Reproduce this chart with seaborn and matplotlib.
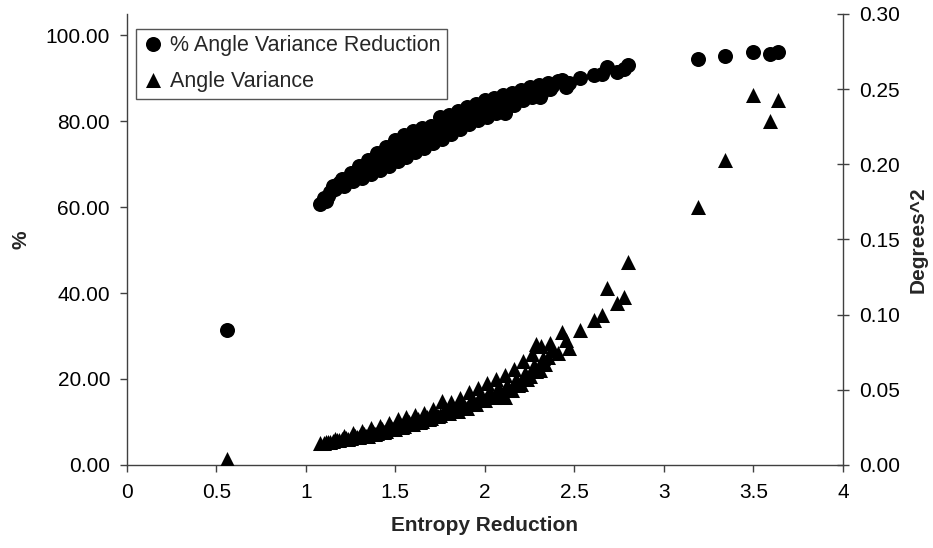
import matplotlib
matplotlib.use("Agg")
import matplotlib.pyplot as plt
from matplotlib.ticker import FormatStrFormatter, FuncFormatter, MultipleLocator
import seaborn as sns

# entropy reduction (x), % angle variance reduction (left), angle variance (right)
entropy = [
    0.56, 1.08, 1.10, 1.1125, 1.125, 1.1375, 1.15, 1.1625, 1.175, 1.1875,
    1.20, 1.2125, 1.225, 1.2375, 1.25, 1.2625, 1.275, 1.2875, 1.30, 1.3125,
    1.325, 1.3375, 1.35, 1.3625, 1.375, 1.3875, 1.40, 1.4125, 1.425, 1.4375,
    1.45, 1.4625, 1.475, 1.4875, 1.50, 1.5125, 1.525, 1.5375, 1.55, 1.5625,
    1.575, 1.5875, 1.60, 1.6125, 1.625, 1.6375, 1.65, 1.6625, 1.675, 1.6875,
    1.70, 1.7125, 1.725, 1.7375, 1.75, 1.7625, 1.775, 1.7875, 1.80, 1.8125,
    1.825, 1.8375, 1.85, 1.8625, 1.875, 1.8875, 1.90, 1.9125, 1.925, 1.9375,
    1.95, 1.9625, 1.975, 1.9875, 2.00, 2.0125, 2.025, 2.0375, 2.05, 2.0625,
    2.075, 2.0875, 2.10, 2.11, 2.1125, 2.125, 2.1375, 2.15, 2.1625, 2.175,
    2.1875, 2.20, 2.2125, 2.225, 2.2375, 2.25, 2.2625, 2.275, 2.285, 2.2875,
    2.30, 2.31, 2.3125, 2.325, 2.3375, 2.35, 2.3625, 2.375, 2.41, 2.43,
    2.455, 2.47, 2.53, 2.61, 2.655, 2.68, 2.74, 2.777, 2.80, 3.19,
    3.34, 3.50, 3.59, 3.635,
]
pct_reduction = [
    31.3, 60.7, 62.0, 61.4, 62.6, 63.4, 65.0, 64.2, 64.8, 65.6,
    66.5, 65.0, 65.8, 66.6, 68.0, 66.0, 67.0, 67.8, 69.5, 66.8,
    68.2, 69.4, 71.0, 67.6, 69.3, 70.6, 72.5, 68.6, 70.6, 71.8,
    74.0, 69.5, 71.8, 73.0, 75.5, 70.6, 73.0, 74.3, 76.8, 71.7,
    74.2, 75.6, 77.6, 72.8, 75.3, 76.5, 78.3, 73.8, 76.1, 77.2,
    78.9, 74.8, 77.0, 78.0, 80.9, 75.8, 78.3, 79.6, 81.4, 77.0,
    79.2, 80.3, 82.4, 78.2, 80.3, 81.4, 83.2, 79.2, 81.2, 82.2,
    84.0, 80.2, 82.1, 83.1, 84.8, 81.0, 82.9, 83.9, 85.4, 81.8,
    83.6, 84.5, 86.0, 81.8, 82.5, 84.3, 85.2, 86.6, 83.8, 85.2,
    85.9, 87.2, 84.8, 86.0, 86.6, 87.8, 85.7, 86.8, 87.6, 87.3,
    88.3, 85.7, 86.2, 87.3, 87.8, 88.8, 87.4, 88.1, 89.3, 89.5,
    88.0, 88.8, 89.9, 90.7, 91.0, 92.6, 91.5, 92.0, 93.0, 94.4,
    95.1, 96.0, 95.7, 96.0,
]
angle_var = [
    0.0041, 0.0144, 0.0146, 0.0152, 0.0150, 0.0156, 0.0160, 0.0173, 0.0166, 0.0164,
    0.0170, 0.0190, 0.0180, 0.0176, 0.0178, 0.0210, 0.0194, 0.0186, 0.0186, 0.0228,
    0.0207, 0.0196, 0.0196, 0.0245, 0.0220, 0.0208, 0.0210, 0.0262, 0.0236, 0.0222,
    0.0225, 0.0280, 0.0252, 0.0238, 0.0240, 0.0303, 0.0270, 0.0255, 0.0257, 0.0320,
    0.0288, 0.0272, 0.0273, 0.0333, 0.0303, 0.0288, 0.0290, 0.0347, 0.0318, 0.0304,
    0.0312, 0.0370, 0.0340, 0.0326, 0.0330, 0.0428, 0.0380, 0.0355, 0.0345, 0.0420,
    0.0382, 0.0364, 0.0362, 0.0448, 0.0405, 0.0384, 0.0380, 0.0484, 0.0432, 0.0406,
    0.0405, 0.0515, 0.0460, 0.0432, 0.0430, 0.0545, 0.0488, 0.0458, 0.0455, 0.0575,
    0.0515, 0.0484, 0.0470, 0.0450, 0.0600, 0.0535, 0.0500, 0.0500, 0.0640, 0.0570,
    0.0535, 0.0540, 0.0690, 0.0615, 0.0575, 0.0590, 0.0740, 0.0665, 0.0805, 0.0625,
    0.0630, 0.0630, 0.0790, 0.0710, 0.0670, 0.0720, 0.0810, 0.0765, 0.0743, 0.0887,
    0.0830, 0.0776, 0.0898, 0.0965, 0.0998, 0.1176, 0.1076, 0.1120, 0.1350, 0.1716,
    0.2030, 0.2460, 0.2290, 0.2430,
]

left_ticks = [0, 20, 40, 60, 80, 100]
right_ticks = [0, 0.05, 0.10, 0.15, 0.20, 0.25, 0.30]

sns.set_theme(style="ticks")
plt.rcParams["font.family"] = ["Liberation Sans", "DejaVu Sans"]
fs = 15
line_col = "#404040"

fig = plt.figure(figsize=(9.33, 5.48), dpi=100)
ax = fig.add_axes([0.1358, 0.1515, 0.7677, 0.823])
ax2 = ax.twinx()

sns.scatterplot(x=entropy, y=pct_reduction, ax=ax, marker="o", color="black",
                s=117, linewidth=0, label="% Angle Variance Reduction", legend=False)
sns.scatterplot(x=entropy, y=angle_var, ax=ax2, marker="^", color="black",
                s=117, linewidth=0, label="Angle Variance", legend=False)

ax.set_xlim(0, 4)
ax.set_ylim(0, 104.9)
ax2.set_ylim(0, 0.30)
ax.xaxis.set_major_locator(MultipleLocator(0.5))
ax.xaxis.set_major_formatter(FuncFormatter(lambda v, p: f"{v:g}"))
ax.set_yticks(left_ticks)
ax.yaxis.set_major_formatter(FormatStrFormatter("%.2f"))
ax2.set_yticks(right_ticks)
ax2.yaxis.set_major_formatter(FormatStrFormatter("%.2f"))

for s in ["top", "right"]:
    ax.spines[s].set_visible(False)
for s in ["top", "left", "bottom"]:
    ax2.spines[s].set_visible(False)
for s in ["left", "bottom"]:
    ax.spines[s].set_color(line_col)
    ax.spines[s].set_linewidth(1)
ax2.spines["right"].set_color(line_col)
ax2.spines["right"].set_linewidth(1)

ax.tick_params(axis="both", direction="out", length=5, width=1, color=line_col,
               labelsize=fs, labelcolor="black")
ax.tick_params(axis="x", pad=8)
ax.tick_params(axis="y", pad=7)
ax2.tick_params(axis="y", direction="inout", length=9, width=1, color=line_col,
                labelsize=fs, labelcolor="black", pad=7)

ax.set_xlabel("Entropy Reduction", fontsize=fs, fontweight="bold", labelpad=10)
ax.set_ylabel("%", fontsize=fs, fontweight="bold", labelpad=11)
ax2.set_ylabel("Degrees^2", fontsize=fs, fontweight="bold", labelpad=6)

h1, l1 = ax.get_legend_handles_labels()
h2, l2 = ax2.get_legend_handles_labels()
leg = ax2.legend(h1 + h2, l1 + l2, loc="upper left", bbox_to_anchor=(0.013, 0.967),
                 borderaxespad=0, frameon=True, fancybox=False, framealpha=1,
                 edgecolor="#555555", fontsize=15.5, handlelength=1.0,
                 handletextpad=0.3, borderpad=0.3, labelspacing=0.7,
                 scatteryoffsets=[0.5])
leg.get_frame().set_linewidth(1)

fig.savefig("out.png", dpi=100)
